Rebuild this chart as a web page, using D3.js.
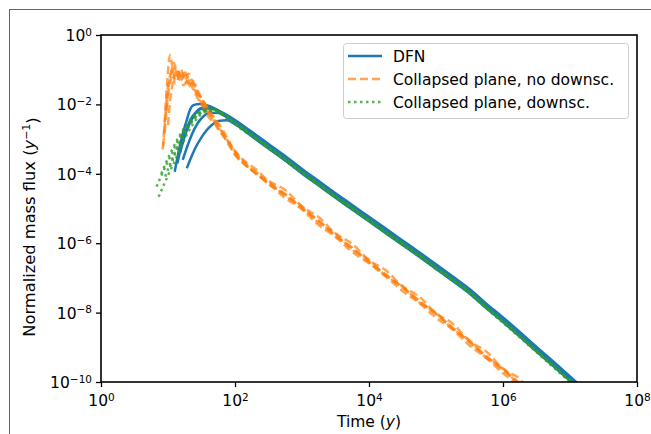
<!DOCTYPE html>
<html><head><meta charset="utf-8">
<script src="https://cdn.jsdelivr.net/npm/d3@7"></script>
<style>body{margin:0;background:#fff}svg{display:block}text{font-family:"DejaVu Sans",sans-serif}</style>
</head><body><svg id="c" width="651" height="434"></svg>
<script>
// Values are stored as [log10(time in y), log10(normalized mass flux in 1/y)]
const xTicks = [1, 1e2, 1e4, 1e6, 1e8];
const yTicks = [1, 1e-2, 1e-4, 1e-6, 1e-8, 1e-10];
const seriesNames = ["DFN", "Collapsed plane, no downsc.", "Collapsed plane, downsc."];

const dfn1 = [[1.10,-3.94],[1.16,-3.35],[1.22,-2.85],[1.28,-2.45],[1.33,-2.15],[1.38,-2.02],[1.48,-1.99],[1.6,-2.04],[1.75,-2.17],[1.9,-2.33],[2.0,-2.45],[2.25,-2.79],[2.5,-3.14],[2.75,-3.49],[3.0,-3.86],[3.25,-4.21],[3.5,-4.56],[3.75,-4.9],[4.0,-5.24],[4.25,-5.58],[4.5,-5.92],[4.75,-6.26],[5.0,-6.61],[5.25,-6.96],[5.5,-7.32],[5.75,-7.74],[6.0,-8.14],[6.25,-8.56],[6.5,-8.99],[6.75,-9.41],[7.0,-9.84],[7.15,-10.1]];
const dfn2 = [[1.18,-3.4],[1.24,-2.98],[1.3,-2.65],[1.37,-2.38],[1.43,-2.2],[1.52,-2.1],[1.62,-2.1],[1.75,-2.2],[1.9,-2.36],[2.0,-2.5],[2.25,-2.85],[2.5,-3.2],[2.75,-3.55],[3.0,-3.92],[3.25,-4.27],[3.5,-4.62],[3.75,-4.96],[4.0,-5.3],[4.25,-5.64],[4.5,-5.98],[4.75,-6.32],[5.0,-6.67],[5.25,-7.02],[5.5,-7.38],[5.75,-7.8],[6.0,-8.2],[6.25,-8.62],[6.5,-9.05],[6.75,-9.47],[7.0,-9.9],[7.15,-10.15]];
const dfn3 = [[1.22,-3.6],[1.29,-3.2],[1.36,-2.85],[1.44,-2.55],[1.53,-2.34],[1.63,-2.24],[1.75,-2.25],[1.9,-2.4],[2.0,-2.53],[2.25,-2.88],[2.5,-3.23],[2.75,-3.58],[3.0,-3.95],[3.25,-4.3],[3.5,-4.65],[3.75,-4.99],[4.0,-5.33],[4.25,-5.67],[4.5,-6.01],[4.75,-6.35],[5.0,-6.7],[5.25,-7.05],[5.5,-7.41],[5.75,-7.83],[6.0,-8.23],[6.25,-8.65],[6.5,-9.08],[6.75,-9.5],[7.0,-9.93],[7.15,-10.18]];
const dfn4 = [[1.28,-3.84],[1.34,-3.55],[1.41,-3.25],[1.49,-2.98],[1.57,-2.76],[1.65,-2.6],[1.75,-2.48],[1.88,-2.46],[2.0,-2.57],[2.25,-2.92],[2.5,-3.27],[2.75,-3.62],[3.0,-3.99],[3.25,-4.34],[3.5,-4.69],[3.75,-5.03],[4.0,-5.37],[4.25,-5.71],[4.5,-6.05],[4.75,-6.39],[5.0,-6.74],[5.25,-7.09],[5.5,-7.45],[5.75,-7.87],[6.0,-8.27],[6.25,-8.69],[6.5,-9.12],[6.75,-9.54],[7.0,-9.97],[7.15,-10.22]];
const dfn5 = [[1.14,-3.7],[1.2,-3.2],[1.27,-2.75],[1.34,-2.42],[1.42,-2.22],[1.52,-2.12],[1.65,-2.12],[1.8,-2.24],[2.0,-2.48],[2.25,-2.83],[2.5,-3.18],[2.75,-3.53],[3.0,-3.9],[3.25,-4.25],[3.5,-4.6],[3.75,-4.94],[4.0,-5.28],[4.25,-5.62],[4.5,-5.96],[4.75,-6.3],[5.0,-6.65],[5.25,-7.0],[5.5,-7.36],[5.75,-7.78],[6.0,-8.18],[6.25,-8.6],[6.5,-9.03],[6.75,-9.45],[7.0,-9.88],[7.15,-10.13]];

const cpNo1 = [[0.93,-3.2],[0.96,-2.2],[0.99,-1.3],[1.03,-0.58],[1.06,-0.85],[1.1,-1.25],[1.15,-1.05],[1.2,-1.3],[1.26,-1.15],[1.32,-1.45],[1.4,-1.6],[1.48,-1.9],[1.56,-2.12],[1.64,-2.35],[1.72,-2.55],[1.85,-2.93],[2.0,-3.34],[2.15,-3.64],[2.3,-3.85],[2.5,-4.2],[2.75,-4.47],[3.0,-4.94],[3.25,-5.25],[3.5,-5.72],[3.75,-6.02],[4.0,-6.49],[4.25,-6.78],[4.5,-7.24],[4.75,-7.54],[5.0,-8.02],[5.25,-8.32],[5.5,-8.82],[5.75,-9.12],[6.0,-9.62],[6.25,-9.92],[6.4,-10.27]];
const cpNo2 = [[0.95,-2.8],[0.99,-1.9],[1.04,-1.3],[1.09,-0.95],[1.14,-1.2],[1.19,-0.98],[1.25,-1.3],[1.31,-1.12],[1.38,-1.45],[1.45,-1.7],[1.53,-1.95],[1.62,-2.25],[1.72,-2.5],[1.85,-2.92],[2.0,-3.36],[2.15,-3.68],[2.3,-3.98],[2.5,-4.22],[2.75,-4.64],[3.0,-4.94],[3.25,-5.42],[3.5,-5.72],[3.75,-6.19],[4.0,-6.48],[4.25,-6.94],[4.5,-7.24],[4.75,-7.7],[5.0,-8.01],[5.25,-8.47],[5.5,-8.8],[5.75,-9.3],[6.0,-9.6],[6.25,-10.1],[6.4,-10.3]];
const cpNo3 = [[0.92,-3.3],[0.95,-2.6],[0.98,-1.8],[1.02,-1.25],[1.06,-1.05],[1.11,-1.4],[1.17,-1.2],[1.23,-1.45],[1.3,-1.3],[1.37,-1.55],[1.45,-1.85],[1.53,-2.1],[1.6,-2.35],[1.7,-2.55],[1.85,-2.98],[2.0,-3.45],[2.15,-3.75],[2.3,-3.92],[2.5,-4.3],[2.75,-4.58],[3.0,-5.0],[3.25,-5.36],[3.5,-5.79],[3.75,-6.13],[4.0,-6.55],[4.25,-6.92],[4.5,-7.26],[4.75,-7.68],[5.0,-8.03],[5.25,-8.45],[5.5,-8.83],[5.75,-9.27],[6.0,-9.63],[6.25,-10.07],[6.4,-10.3]];
const cpNo4 = [[1.0,-2.6],[1.04,-1.75],[1.09,-1.25],[1.14,-0.98],[1.2,-1.22],[1.26,-1.08],[1.33,-1.38],[1.4,-1.42],[1.48,-1.75],[1.56,-2.0],[1.64,-2.25],[1.72,-2.45],[1.8,-2.68],[1.9,-3.02],[2.0,-3.38],[2.15,-3.73],[2.3,-3.98],[2.5,-4.28],[2.75,-4.7],[3.0,-5.03],[3.25,-5.48],[3.5,-5.82],[3.75,-6.25],[4.0,-6.58],[4.25,-6.96],[4.5,-7.38],[4.75,-7.72],[5.0,-8.15],[5.25,-8.49],[5.5,-8.95],[5.75,-9.31],[6.0,-9.75],[6.25,-10.11],[6.4,-10.38]];
const cpNo5 = [[0.98,-2.2],[1.01,-1.5],[1.05,-1.05],[1.09,-0.8],[1.13,-1.1],[1.18,-1.3],[1.23,-1.1],[1.29,-1.4],[1.35,-1.25],[1.42,-1.6],[1.5,-1.82],[1.58,-2.1],[1.66,-2.42],[1.75,-2.72],[1.9,-3.1],[2.0,-3.44],[2.15,-3.72],[2.3,-3.96],[2.5,-4.26],[2.75,-4.6],[3.0,-4.98],[3.25,-5.35],[3.5,-5.78],[3.75,-6.14],[4.0,-6.53],[4.25,-6.9],[4.5,-7.29],[4.75,-7.65],[5.0,-8.05],[5.25,-8.44],[5.5,-8.86],[5.75,-9.25],[6.0,-9.66],[6.25,-10.04],[6.4,-10.3]];

const cpDs1 = [[0.86,-4.66],[0.93,-4.35],[1.0,-4.05],[1.08,-3.72],[1.15,-3.42],[1.23,-3.08],[1.3,-2.8],[1.38,-2.55],[1.46,-2.35],[1.55,-2.22],[1.65,-2.18],[1.78,-2.27],[1.9,-2.41],[2.0,-2.53],[2.25,-2.88],[2.5,-3.23],[2.75,-3.58],[3.0,-3.95],[3.25,-4.3],[3.5,-4.65],[3.75,-4.99],[4.0,-5.33],[4.25,-5.67],[4.5,-6.01],[4.75,-6.35],[5.0,-6.7],[5.25,-7.05],[5.5,-7.41],[5.75,-7.84],[6.0,-8.25],[6.25,-8.67],[6.5,-9.1],[6.75,-9.53],[7.0,-9.96],[7.1,-10.13]];
const cpDs2 = [[0.83,-4.37],[0.9,-4.05],[0.98,-3.72],[1.06,-3.4],[1.14,-3.08],[1.22,-2.8],[1.3,-2.56],[1.4,-2.33],[1.5,-2.18],[1.6,-2.12],[1.72,-2.16],[1.85,-2.3],[2.0,-2.52],[2.25,-2.87],[2.5,-3.22],[2.75,-3.57],[3.0,-3.94],[3.25,-4.29],[3.5,-4.64],[3.75,-4.98],[4.0,-5.32],[4.25,-5.66],[4.5,-6.0],[4.75,-6.34],[5.0,-6.69],[5.25,-7.04],[5.5,-7.4],[5.75,-7.83],[6.0,-8.24],[6.25,-8.66],[6.5,-9.09],[6.75,-9.52],[7.0,-9.95],[7.1,-10.12]];
const cpDs3 = [[0.96,-4.08],[1.03,-3.72],[1.1,-3.4],[1.18,-3.06],[1.26,-2.78],[1.35,-2.5],[1.45,-2.3],[1.55,-2.18],[1.67,-2.15],[1.8,-2.26],[1.9,-2.38],[2.0,-2.55],[2.25,-2.9],[2.5,-3.25],[2.75,-3.6],[3.0,-3.97],[3.25,-4.32],[3.5,-4.67],[3.75,-5.01],[4.0,-5.35],[4.25,-5.69],[4.5,-6.03],[4.75,-6.37],[5.0,-6.72],[5.25,-7.07],[5.5,-7.43],[5.75,-7.86],[6.0,-8.27],[6.25,-8.69],[6.5,-9.12],[6.75,-9.55],[7.0,-9.98],[7.1,-10.15]];
const cpDs4 = [[1.03,-3.8],[1.1,-3.45],[1.18,-3.1],[1.26,-2.8],[1.35,-2.52],[1.44,-2.32],[1.54,-2.2],[1.65,-2.16],[1.78,-2.24],[1.9,-2.4],[2.0,-2.57],[2.25,-2.92],[2.5,-3.27],[2.75,-3.62],[3.0,-3.99],[3.25,-4.34],[3.5,-4.69],[3.75,-5.03],[4.0,-5.37],[4.25,-5.71],[4.5,-6.05],[4.75,-6.39],[5.0,-6.74],[5.25,-7.09],[5.5,-7.45],[5.75,-7.88],[6.0,-8.29],[6.25,-8.71],[6.5,-9.14],[6.75,-9.57],[7.0,-10.0],[7.1,-10.17]];
const cpDs5 = [[0.9,-4.0],[0.97,-3.68],[1.05,-3.35],[1.13,-3.05],[1.21,-2.78],[1.3,-2.52],[1.4,-2.32],[1.5,-2.2],[1.62,-2.16],[1.75,-2.22],[1.88,-2.36],[2.0,-2.54],[2.25,-2.89],[2.5,-3.24],[2.75,-3.59],[3.0,-3.96],[3.25,-4.31],[3.5,-4.66],[3.75,-5.0],[4.0,-5.34],[4.25,-5.68],[4.5,-6.02],[4.75,-6.36],[5.0,-6.71],[5.25,-7.06],[5.5,-7.42],[5.75,-7.85],[6.0,-8.26],[6.25,-8.68],[6.5,-9.11],[6.75,-9.54],[7.0,-9.97],[7.1,-10.14]];

const series = [
  {name: seriesNames[0], runs: [dfn1, dfn2, dfn3, dfn4, dfn5], color: "#1f77b4", dash: null, opacity: 1},
  {name: seriesNames[1], runs: [cpNo1, cpNo2, cpNo3, cpNo4, cpNo5], color: "#ff7f0e", dash: "8,4", opacity: 0.7},
  {name: seriesNames[2], runs: [cpDs1, cpDs2, cpDs3, cpDs4, cpDs5], color: "#2ca02c", dash: "2.5,3.5", opacity: 0.8}
];

const L = 101, T = 35, R = 637, B = 382;
const svg = d3.select("#c");
svg.append("rect").attr("width", 651).attr("height", 434).attr("fill", "#fff");
svg.append("rect").attr("x", 9.5).attr("y", 9.5).attr("width", 700).attr("height", 500)
  .attr("fill", "none").attr("stroke", "#666").attr("stroke-width", 1);

const x = d3.scaleLog().domain([1, 1e8]).range([L, R]);
const y = d3.scaleLog().domain([1e-10, 1]).range([B, T]);

svg.append("clipPath").attr("id", "clip").append("rect")
  .attr("x", L).attr("y", T).attr("width", R - L).attr("height", B - T);

const line = d3.line().curve(d3.curveMonotoneX)
  .x(d => x(Math.pow(10, d[0]))).y(d => y(Math.pow(10, d[1])));
const plot = svg.append("g").attr("clip-path", "url(#clip)");
series.forEach(s => {
  s.runs.forEach(run => {
    plot.append("path").datum(run).attr("d", line)
      .attr("fill", "none").attr("stroke", s.color).attr("stroke-width", 2.5)
      .attr("stroke-opacity", s.opacity)
      .attr("stroke-dasharray", s.dash)
      .attr("stroke-linejoin", "round");
  });
});

// axes
const supLabel = (sel, v) => {
  const e = Math.round(Math.log10(v));
  sel.append("tspan").text("10");
  sel.append("tspan").attr("dy", "-0.5em").attr("font-size", "10.5px").text(e < 0 ? "\u2212" + (-e) : String(e));
};
const gx = svg.append("g").attr("transform", `translate(0,${B})`)
  .call(d3.axisBottom(x).tickValues(xTicks).tickSize(5).tickFormat(""));
gx.select(".domain").remove();
gx.selectAll(".tick line").attr("stroke", "#000").attr("stroke-width", 1.3);
gx.selectAll(".tick").each(function(d) {
  const t = d3.select(this).append("text").attr("y", 24).attr("fill", "#000")
    .attr("text-anchor", "middle").attr("font-size", "15.5px")
    .attr("font-family", "DejaVu Sans, sans-serif");
  supLabel(t, d);
});
const gy = svg.append("g").attr("transform", `translate(${L},0)`)
  .call(d3.axisLeft(y).tickValues(yTicks).tickSize(5).tickFormat(""));
gy.select(".domain").remove();
gy.selectAll(".tick line").attr("stroke", "#000").attr("stroke-width", 1.3);
gy.selectAll(".tick").each(function(d) {
  const t = d3.select(this).append("text").attr("x", -9).attr("y", 5.5).attr("fill", "#000")
    .attr("text-anchor", "end").attr("font-size", "15.5px")
    .attr("font-family", "DejaVu Sans, sans-serif");
  supLabel(t, d);
});
svg.append("rect").attr("x", L).attr("y", T).attr("width", R - L).attr("height", B - T)
  .attr("fill", "none").attr("stroke", "#000").attr("stroke-width", 1.6);

// axis titles
const xl = svg.append("text").attr("x", (L + R) / 2).attr("y", 427).attr("text-anchor", "middle")
  .attr("font-size", "15.5px");
xl.append("tspan").text("Time (");
xl.append("tspan").attr("font-style", "italic").text("y");
xl.append("tspan").text(")");

const yl = svg.append("text").attr("transform", "translate(35,227) rotate(-90)")
  .attr("text-anchor", "middle").attr("font-size", "16.3px");
yl.append("tspan").text("Normalized mass flux (");
yl.append("tspan").attr("font-style", "italic").text("y");
yl.append("tspan").attr("dy", "-0.5em").attr("font-size", "11px").text("\u22121");
yl.append("tspan").attr("dy", "0.5em").text(")");

// legend
const lg = svg.append("g");
lg.append("rect").attr("x", 343.5).attr("y", 43.5).attr("width", 285).attr("height", 75).attr("rx", 3)
  .attr("fill", "#fff").attr("fill-opacity", 0.8).attr("stroke", "#ccc").attr("stroke-width", 1);
series.forEach((s, i) => {
  const yy = 56 + i * 23;
  lg.append("line").attr("x1", 348).attr("x2", 382).attr("y1", yy).attr("y2", yy)
    .attr("stroke", s.color).attr("stroke-width", 2.5).attr("stroke-opacity", s.opacity)
    .attr("stroke-dasharray", s.dash);
  lg.append("text").attr("x", 393).attr("y", yy + 5.5).attr("font-size", "15.5px").text(s.name);
});
</script></body></html>
